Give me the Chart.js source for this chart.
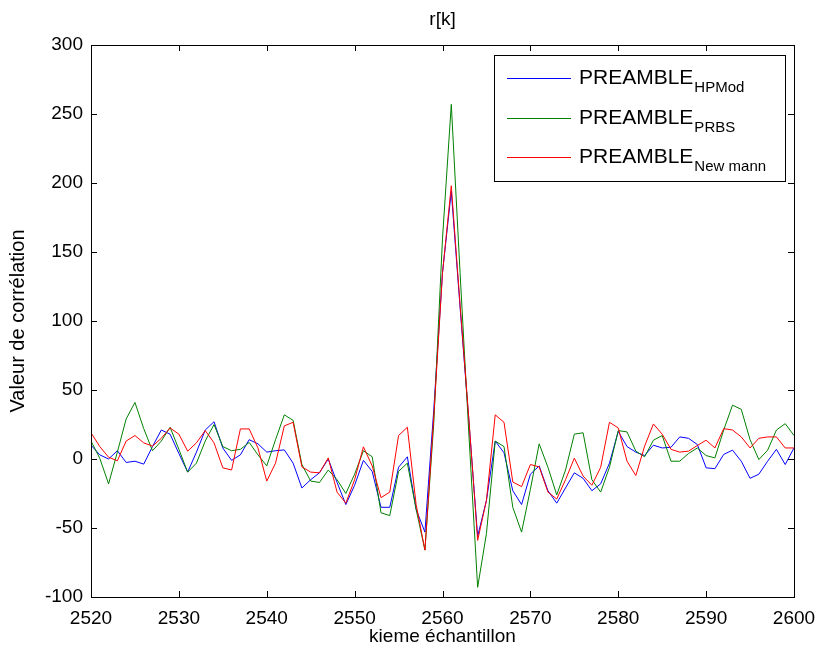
<!DOCTYPE html>
<html>
<head>
<meta charset="utf-8">
<title>r[k]</title>
<script src="https://cdn.jsdelivr.net/npm/chart.js@4/dist/chart.umd.min.js"></script>
<style>
  html, body { margin: 0; padding: 0; background: #fff; }
  #wrap { width: 819px; height: 652px; }
</style>
</head>
<body>
<div id="wrap"><canvas id="mainChart" width="819" height="652"></canvas></div>
<script>
/* =========================================================
   DATA
========================================================= */
const samples = [
  2520, 2521, 2522, 2523, 2524, 2525, 2526, 2527, 2528, 2529,
  2530, 2531, 2532, 2533, 2534, 2535, 2536, 2537, 2538, 2539,
  2540, 2541, 2542, 2543, 2544, 2545, 2546, 2547, 2548, 2549,
  2550, 2551, 2552, 2553, 2554, 2555, 2556, 2557, 2558, 2559,
  2560, 2561, 2562, 2563, 2564, 2565, 2566, 2567, 2568, 2569,
  2570, 2571, 2572, 2573, 2574, 2575, 2576, 2577, 2578, 2579,
  2580, 2581, 2582, 2583, 2584, 2585, 2586, 2587, 2588, 2589,
  2590, 2591, 2592, 2593, 2594, 2595, 2596, 2597, 2598, 2599,
  2600
];

const hpmod = [
  10, 3, 0, 6, -2.5, -1.6, -3.7, 9, 21, 18,
  4, -9.5, 5, 21, 27, 8, -1, 3, 14, 11,
  5, 6, 6.6, -3, -21, -15, -10, 0, -17, -33,
  -19, -1, -9, -35, -35, -6, 1.6, -36.5, -53, 35,
  135, 194, 110, 28, -56, -30, 13, 4.5, -23, -33,
  -11, -5, -23, -32, -21, -10, -14, -23, -18, -3,
  20, 9, 5, 2.5, 10, 8, 8.5, 16, 15, 10.5,
  -6.4, -7, 3.3, 6.4, -1.6, -14, -11, -1.6, 7, -4,
  8
];

const prbs = [
  13, 0.5, -18, 5, 29, 41, 22, 6, 13, 23,
  7, -9.5, -3, 13, 25, 9, 6, 7, 12, 3,
  -5, 14, 32, 28, -4, -16, -17, -8, -15, -25,
  -11, 6, 1.6, -39, -41, -9, -3, -36.5, -66, 25,
  160, 257, 135, 18, -93, -54, 13, 9, -35, -53,
  -22, 11, -6, -26, -8, 18, 19, -15, -24, -6,
  20.6, 19.6, 5.7, 1.6, 13.6, 17, -1.6, -1.6, 4, 8,
  2.5, 0.8, 21, 39, 36, 14, -0.4, 6.4, 21, 25.6,
  17
];

const newmann = [
  19, 9, 1.3, -1.3, 13, 17, 11.7, 9.3, 15, 22.5,
  18, 5.7, 11.7, 20.6, 11.7, -6.4, -8, 21.8, 21.8, 8,
  -16, -3, 24, 26.6, -5.7, -9.5, -10, 0.8, -24, -32,
  -15, 8.8, -5, -28, -24, 17, 23, -33, -66, 30,
  135, 198, 112, 29, -59, -30, 32, 26.6, -16.7, -20,
  -4, -5.7, -24, -29, -15, 0.6, -12.4, -19, -6, 26.6,
  22.5, -1.6, -12, 9.3, 25.4, 18, 7, 5, 5.7, 9.8,
  13.6, 8, 22, 21, 16, 8, 15, 16, 16, 8,
  8
];

const seriesNames = ["PREAMBLE", "PREAMBLE", "PREAMBLE"];
const seriesSubs = ["HPMod", "PRBS", "New mann"];
const seriesColors = ["#0000ff", "#008000", "#ff0000"];

const xTicks = [2520, 2530, 2540, 2550, 2560, 2570, 2580, 2590, 2600];
const yTicks = [-100, -50, 0, 50, 100, 150, 200, 250, 300];

const chartTitle = "r[k]";
const FONT = "'Liberation Sans', Arial, Helvetica, sans-serif";

function toPoints(values) {
  return samples.map((k, i) => ({ x: k, y: values[i] }));
}

/* =========================================================
   MATLAB-LIKE BOX, INWARD TICKS AND TITLE
========================================================= */
const boxTicks = {
  id: "boxTicks",
  afterDatasetsDraw(chart) {
    const { ctx, chartArea: a, scales } = chart;
    const len = 6;
    ctx.save();
    ctx.strokeStyle = "#000";
    ctx.lineWidth = 1;
    ctx.beginPath();
    xTicks.forEach(v => {
      const x = Math.round(scales.x.getPixelForValue(v)) + 0.5;
      ctx.moveTo(x, a.bottom); ctx.lineTo(x, a.bottom - len);
      ctx.moveTo(x, a.top); ctx.lineTo(x, a.top + len);
    });
    yTicks.forEach(v => {
      const y = Math.round(scales.y.getPixelForValue(v)) + 0.5;
      ctx.moveTo(a.left, y); ctx.lineTo(a.left + len, y);
      ctx.moveTo(a.right, y); ctx.lineTo(a.right - len, y);
    });
    ctx.stroke();
    ctx.strokeRect(Math.round(a.left) + 0.5, Math.round(a.top) + 0.5,
      Math.round(a.right - a.left), Math.round(a.bottom - a.top));

    // title centred over the plot box, as MATLAB does
    ctx.fillStyle = "#000";
    ctx.font = "19px " + FONT;
    ctx.textAlign = "center";
    ctx.textBaseline = "middle";
    ctx.fillText(chartTitle, (a.left + a.right) / 2, 20);
    ctx.restore();
  }
};

/* =========================================================
   LEGEND WITH SUBSCRIPTS
========================================================= */
const subLegend = {
  id: "subLegend",
  afterDraw(chart) {
    const { ctx } = chart;
    const box = { x: 494.5, y: 55.5, w: 291, h: 126 };
    const rows = [78, 118, 157];
    ctx.save();
    ctx.fillStyle = "#fff";
    ctx.fillRect(box.x, box.y, box.w, box.h);
    ctx.strokeStyle = "#000";
    ctx.lineWidth = 1;
    ctx.strokeRect(box.x, box.y, box.w, box.h);

    rows.forEach((y, i) => {
      ctx.strokeStyle = seriesColors[i];
      ctx.beginPath();
      ctx.moveTo(507, y + 0.5);
      ctx.lineTo(571, y + 0.5);
      ctx.stroke();

      ctx.fillStyle = "#000";
      ctx.textBaseline = "alphabetic";
      ctx.textAlign = "left";
      ctx.font = "21px " + FONT;
      ctx.fillText(seriesNames[i], 579, y + 6);
      const w = ctx.measureText(seriesNames[i]).width;
      ctx.font = "15px " + FONT;
      ctx.fillText(seriesSubs[i], 579 + w + 1, y + 14);
    });
    ctx.restore();
  }
};

/* =========================================================
   CHART
========================================================= */
const datasets = [hpmod, prbs, newmann].map((vals, i) => ({
  label: seriesNames[i] + seriesSubs[i],
  data: toPoints(vals),
  borderColor: seriesColors[i],
  backgroundColor: seriesColors[i],
  borderWidth: 1,
  pointRadius: 0,
  tension: 0,
  fill: false,
  order: 3 - i
}));

new Chart(document.getElementById("mainChart"), {
  type: "line",
  data: { datasets },
  options: {
    responsive: false,
    animation: false,
    devicePixelRatio: 1,
    layout: { padding: { left: 0, right: 25, top: 45, bottom: 0 } },
    plugins: {
      legend: { display: false },
      tooltip: { enabled: false },
      title: { display: false }
    },
    scales: {
      x: {
        type: "linear",
        min: 2520,
        max: 2600,
        afterFit: s => {
          s.height = 55;
          s.paddingLeft = 0;
          s.paddingRight = 0;
        },
        afterBuildTicks: s => { s.ticks = xTicks.map(v => ({ value: v })); },
        grid: { display: false, drawTicks: false, tickLength: 0 },
        border: { display: false },
        ticks: {
          color: "#000",
          padding: 10,
          maxRotation: 0,
          autoSkip: false,
          font: { family: FONT, size: 19 },
          callback: v => String(v)
        },
        title: {
          display: true,
          text: "kieme échantillon",
          color: "#000",
          font: { family: FONT, size: 19 },
          padding: { top: 0, bottom: 4 }
        }
      },
      y: {
        min: -100,
        max: 300,
        afterFit: s => { s.width = 91; },
        afterBuildTicks: s => { s.ticks = yTicks.map(v => ({ value: v })); },
        grid: { display: false, drawTicks: false, tickLength: 0 },
        border: { display: false },
        ticks: {
          color: "#000",
          padding: 8,
          font: { family: FONT, size: 19 },
          callback: v => String(v)
        },
        title: {
          display: true,
          text: "Valeur de corrélation",
          color: "#000",
          font: { family: FONT, size: 20 },
          padding: { top: 6, bottom: 0 }
        }
      }
    }
  },
  plugins: [boxTicks, subLegend]
});
</script>
</body>
</html>
